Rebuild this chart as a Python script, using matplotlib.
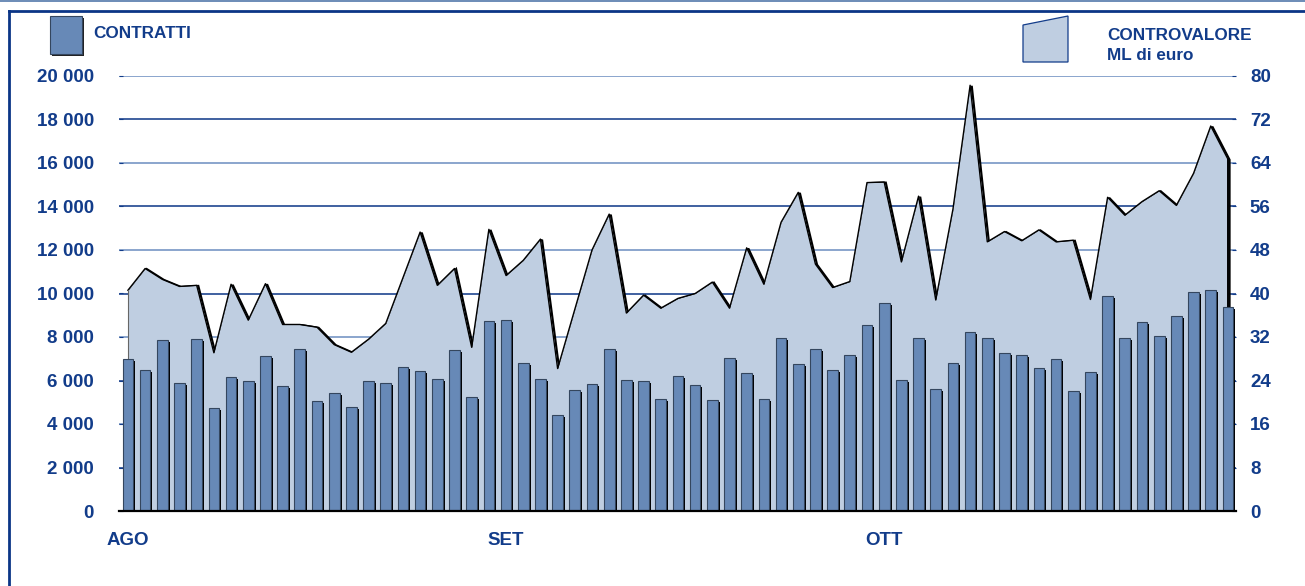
import matplotlib
matplotlib.use("Agg")
import matplotlib.pyplot as plt
import matplotlib.transforms as mtransforms
from matplotlib.patches import Rectangle, Polygon
from matplotlib.lines import Line2D
import numpy as np

# ---- data ----
contratti = [7000, 6500, 7880, 5870, 7920, 4740, 6180, 5990, 7130, 5760,
             7450, 5040, 5440, 4770, 5960, 5900, 6600, 6420, 6070, 7390,
             5260, 8720, 8800, 6800, 6050, 4430, 5580, 5860, 7430, 6010,
             5960, 5130, 6220, 5790, 5090, 7020, 6330, 5130, 7950, 6740,
             7430, 6500, 7170, 8550, 9550, 6010, 7970, 5630, 6820, 8250,
             7970, 7250, 7160, 6560, 7000, 5520, 6390, 9870, 7970, 8700,
             8030, 8980, 10050, 10180, 9360]
controvalore = [40.6, 44.6, 42.6, 41.3, 41.5, 29.1, 41.7, 35.1, 41.8, 34.3,
                34.3, 33.8, 30.6, 29.2, 31.6, 34.5, 42.9, 51.3, 41.5, 44.6,
                30.1, 51.8, 43.3, 46.1, 50.0, 26.2, 37.1, 48.0, 54.6, 36.4,
                39.7, 37.3, 39.1, 40.0, 42.1, 37.3, 48.4, 41.7, 53.1, 58.6,
                45.4, 41.1, 42.2, 60.4, 60.5, 45.8, 57.9, 38.8, 55.5, 78.3,
                49.5, 51.4, 49.7, 51.7, 49.5, 49.8, 38.9, 57.7, 54.4, 56.9,
                58.9, 56.2, 62.1, 70.8, 64.7]
month_labels = ["AGO", "SET", "OTT"]
month_pos = [0, 22, 44]
left_ticks = [0, 2000, 4000, 6000, 8000, 10000, 12000, 14000, 16000, 18000, 20000]
right_ticks = [0, 8, 16, 24, 32, 40, 48, 56, 64, 72, 80]

W, H = 1305, 586
NAVY = "#123C8A"
BAR = "#6789B7"
AREA = "#BFCEE1"
GRID_L = "#6B8DC0"
GRID_D = "#0B3586"

plt.rcParams['font.family'] = ['Liberation Sans', 'DejaVu Sans']
plt.rcParams['font.weight'] = 'bold'

fig = plt.figure(figsize=(W / 100, H / 100), dpi=100)
ax = fig.add_axes([119 / W, 1 - 511 / H, (1236 - 119) / W, (511 - 76) / H])
ax2 = ax.twinx()

x = np.arange(len(contratti))

# ---- area (bottom axes, right scale) ----
ax.set_ylim(0, 80)
ax.set_xlim(-0.52, 64.47)
for i, t in enumerate(right_ticks[1:]):
    ax.axhline(t, color=GRID_L if i % 2 == 1 else GRID_D, lw=1.1, zorder=1)
shadow_off = mtransforms.ScaledTranslation(1.6 / 100, -0.6 / 100, fig.dpi_scale_trans)
xs = list(x) + [x[-1]]
ys = list(controvalore) + [0]
ax.plot(xs, ys, color="black", lw=1.6, zorder=2,
        transform=ax.transData + shadow_off, solid_joinstyle='miter')
ax.fill_between(x, controvalore, 0, color=AREA, lw=0, zorder=3)
ax.plot(x, controvalore, color="black", lw=1.0, zorder=4)
ax.plot([x[0], x[0]], [0, controvalore[0]], color="#666666", lw=0.8, zorder=4)
ax.plot([x[-1], x[-1]], [0, controvalore[-1]], color="black", lw=1.4, zorder=4)

ax.yaxis.tick_right()
ax.set_yticks(right_ticks)
ax.set_yticklabels([str(t) for t in right_ticks])
ax.tick_params(axis='y', direction='in', length=3, color=NAVY, labelcolor=NAVY,
               labelsize=13.5, pad=10)
for lab in ax.get_yticklabels():
    lab.set_horizontalalignment('left')
ax.set_xticks(month_pos)
ax.set_xticklabels(month_labels)
ax.tick_params(axis='x', length=0, labelcolor=NAVY, labelsize=13.5, pad=15)
for s in ax.spines.values():
    s.set_visible(False)

# ---- bars (top axes, left scale) ----
ax2.set_ylim(0, 20000)
bar_off = mtransforms.ScaledTranslation(2 / 100, -2 / 100, fig.dpi_scale_trans)
sh = ax2.bar(x, contratti, width=0.62, color="black", lw=0, zorder=5)
for p in sh:
    p.set_transform(ax2.transData + bar_off)
ax2.bar(x, contratti, width=0.62, color=BAR, edgecolor="#34465E", lw=0.8, zorder=6)

ax2.yaxis.tick_left()
ax2.set_yticks(left_ticks)
ax2.set_yticklabels([f"{t:,}".replace(",", " ") for t in left_ticks])
ax2.tick_params(axis='y', direction='in', length=3, color=NAVY, labelcolor=NAVY,
                labelsize=13.5, pad=18)
for k, s in ax2.spines.items():
    s.set_visible(k == 'bottom')
ax2.spines['bottom'].set_color("black")
ax2.spines['bottom'].set_linewidth(1.6)
ax2.spines['bottom'].set_zorder(10)

# ---- frame ----
def fx(px):
    return px / W

def fy(py):
    return 1 - py / H

fig.add_artist(Rectangle((0, fy(2)), 1, 2 / H, transform=fig.transFigure,
                         color="#6F8EB8", lw=0))
fig.add_artist(Line2D([fx(9), 1], [fy(11), fy(11)], transform=fig.transFigure,
                      color=GRID_D, lw=2))
fig.add_artist(Line2D([fx(9), fx(9)], [fy(11), 0], transform=fig.transFigure,
                      color=GRID_D, lw=2))

# ---- legend: contratti ----
fig.add_artist(Rectangle((fx(52), fy(56)), 32 / W, 38 / H, transform=fig.transFigure,
                         color="#222222", lw=0))
fig.add_artist(Rectangle((fx(50), fy(54)), 32 / W, 38 / H, transform=fig.transFigure,
                         facecolor=BAR, edgecolor="#34465E", lw=0.8))
fig.text(fx(93), fy(33), "CONTRATTI", color=NAVY, fontsize=12.3, fontweight='bold',
         ha='left', va='center')

# ---- legend: controvalore ----
fig.add_artist(Polygon([(fx(1023), fy(62)), (fx(1023), fy(25)), (fx(1068), fy(16)),
                        (fx(1068), fy(62))], closed=True, transform=fig.transFigure,
                       facecolor=AREA, edgecolor=NAVY, lw=0.9))
fig.text(fx(1107), fy(35), "CONTROVALORE", color=NAVY, fontsize=12.3,
         fontweight='bold', ha='left', va='center')
fig.text(fx(1107), fy(56), "ML di euro", color=NAVY, fontsize=12.3,
         fontweight='bold', ha='left', va='center')

fig.savefig("out.png", dpi=100)
